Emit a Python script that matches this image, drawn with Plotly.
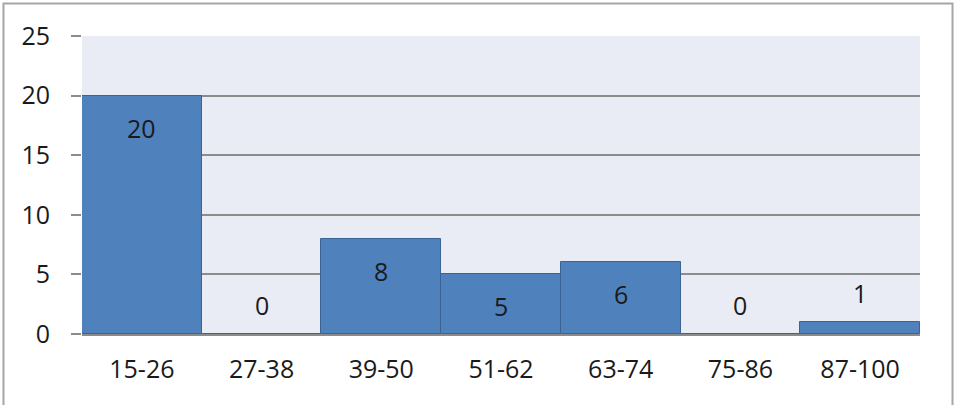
import plotly.graph_objects as go

categories = ["15-26", "27-38", "39-50", "51-62", "63-74", "75-86", "87-100"]
counts = [20, 0, 8, 5, 6, 0, 1]
y_ticks = [0, 5, 10, 15, 20, 25]

FONT = "Open Sans"
FS = 25
fig = go.Figure()
fig.add_trace(go.Bar(
    x=categories, y=counts,
    marker=dict(color="#4f81bd", line=dict(color="#3a6494", width=1)),
    hoverinfo="x+y",
))

for c, v in zip(categories, counts):
    fig.add_annotation(
        x=c, y=v, xref="x", yref="y", text=str(v), showarrow=False,
        yanchor="middle", yshift=(-32 if v >= 3 else 29),
        font=dict(family=FONT, size=FS, color="#1a1a1a"),
    )

# outer chart border
fig.add_shape(type="rect", xref="paper", yref="paper",
              x0=-0.0937, x1=1.0388, y0=-0.26, y1=1.109,
              line=dict(color="#a6a6a6", width=2), fillcolor="rgba(0,0,0,0)",
              layer="below")

fig.update_layout(
    width=962, height=405,
    margin=dict(l=82, r=42, t=36, b=71),
    paper_bgcolor="white", plot_bgcolor="#e9ecf4",
    bargap=0, showlegend=False,
    font=dict(family=FONT, size=FS, color="#1a1a1a"),
    xaxis=dict(showgrid=False, ticks="", showline=True, linecolor="#8c8c8c",
               linewidth=1.5, tickfont=dict(size=FS), ticklabelstandoff=12),
    yaxis=dict(range=[0, 25], tickvals=y_ticks, showgrid=True,
               gridcolor="#8c8c8c", gridwidth=1.5, zeroline=False,
               ticks="outside", ticklen=10, tickcolor="#8c8c8c", tickwidth=1.5,
               showline=False, tickfont=dict(size=FS), ticklabelstandoff=16),
)

fig.write_html("out.html")
